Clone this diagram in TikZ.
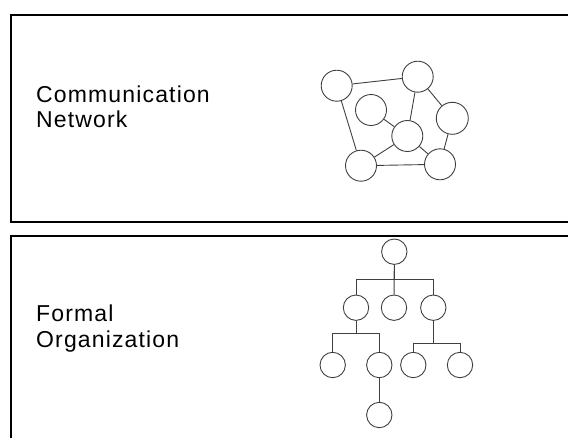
\documentclass[tikz,border=0pt]{standalone}
\usepackage{fontspec}
\newfontfamily\labfont[LetterSpace=5]{Liberation Sans}
\begin{document}
\begin{tikzpicture}[x=1pt,y=-1pt,
  panel/.style={draw=black,line width=2pt},
  lab/.style={anchor=base west,inner sep=0pt,font=\labfont\fontsize{23}{26}\selectfont,text=black},
  nnode/.style={circle,draw=black!75,line width=0.9pt,minimum size=31pt,inner sep=0pt},
  tnode/.style={circle,draw=black!75,line width=0.9pt,minimum size=25.4pt,inner sep=0pt},
  link/.style={draw=black!75,line width=0.9pt}]
\useasboundingbox (0,0) rectangle (568,437);
\clip (0,0) rectangle (568,437);
% panels
\draw[panel] (11,15) rectangle (580,222);
\draw[panel] (11,235.5) rectangle (580,460);
% labels
\node[lab] (t1) at (36,102.5) {Communication};
\node[lab] (t2) at (36,127.5) {Network};
\node[lab] (t3) at (36,321.5) {Formal};
\node[lab] (t4) at (36,347.5) {Organization};
% network
\node[nnode] (A) at (336.7,85.7) {};
\node[nnode] (B) at (417.7,76.7) {};
\node[nnode] (C) at (371,110) {};
\node[nnode] (D) at (407.3,136) {};
\node[nnode,minimum size=32pt] (E) at (452.3,118.3) {};
\node[nnode] (F) at (361,165.7) {};
\node[nnode] (G) at (440,164.3) {};
\draw[link] (A) -- (B);
\draw[link] (A) -- (F);
\draw[link] (B) -- (D);
\draw[link] (B) -- (E);
\draw[link] (C) -- (D);
\draw[link] (D) -- (F);
\draw[link] (D) -- (G);
\draw[link] (E) -- (G);
\draw[link] (F) -- (G);
% tree
\node[tnode] (root) at (394.3,251.7) {};
\node[tnode] (L) at (356,307.7) {};
\node[tnode] (M) at (394,307.7) {};
\node[tnode] (R) at (433.3,307.7) {};
\node[tnode] (LL) at (332.7,365) {};
\node[tnode] (LR) at (379.3,365) {};
\node[tnode] (RL) at (413.3,365) {};
\node[tnode] (RR) at (460,365) {};
\node[tnode] (LRB) at (379.3,415) {};
\draw[link] (root.south) -- ++(0,14.6) coordinate (bus1) -| (L.north);
\draw[link] (bus1) -| (R.north);
\draw[link] (root) -- (M);
\draw[link] (L.south) -- ++(0,12.9) coordinate (bus2) -| (LL.north);
\draw[link] (bus2) -| (LR.north);
\draw[link] (R.south) -- ++(0,22.9) coordinate (bus3) -| (RL.north);
\draw[link] (bus3) -| (RR.north);
\draw[link] (LR) -- (LRB);
\end{tikzpicture}
\end{document}
